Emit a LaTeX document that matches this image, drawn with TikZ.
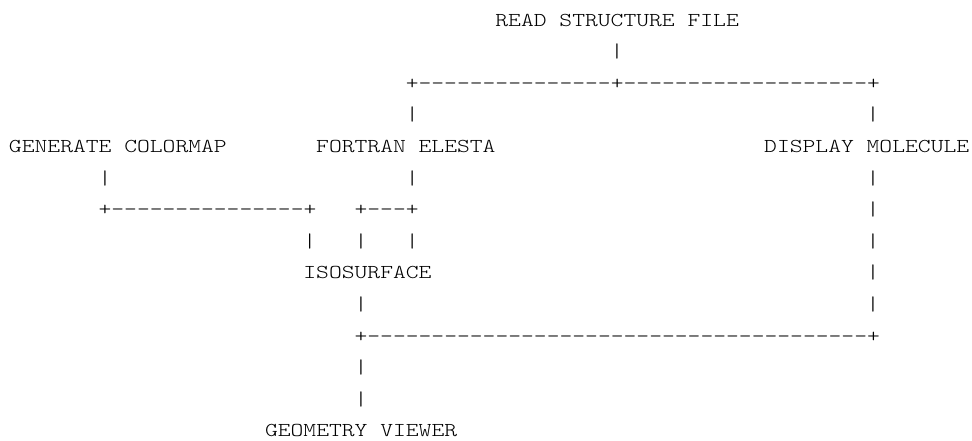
\documentclass[tikz,border=0pt]{standalone}
\usepackage{fontspec}
\newfontfamily\asciifont[FakeStretch=1.24]{lmmonolt10-regular.otf}

\tikzset{
  ascii/.style={font=\asciifont\fontsize{11.2pt}{11.2pt}\selectfont,
    anchor=base west, inner sep=0pt, outer sep=0pt},
}

\begin{document}
\begin{tikzpicture}[x=0.256cm, y=-0.632cm]
  \useasboundingbox (-0.18cm,0.52cm) rectangle (19.26cm,-8.28cm);

  % Modules (column, row on the character grid)
  \node[ascii] (read)     at (38, 0) {READ STRUCTURE FILE};
  \node[ascii] (colormap) at (0, 4)  {GENERATE COLORMAP};
  \node[ascii] (elesta)   at (24, 4) {FORTRAN ELESTA};
  \node[ascii] (molecule) at (59, 4) {DISPLAY MOLECULE};
  \node[ascii] (iso)      at (23, 8) {ISOSURFACE};
  \node[ascii] (viewer)   at (20, 13) {GEOMETRY VIEWER};

  % Split below the structure reader
  \node[ascii] (r1) at (47, 1) {|};
  \node[ascii] (r2) at (31, 2) {+---------------+-------------------+};
  \node[ascii] (r3a) at (31, 3) {|};
  \node[ascii] (r3b) at (67, 3) {|};

  % Colormap and elesta into the isosurface
  \node[ascii] (c5a) at (7, 5)  {|};
  \node[ascii] (c5b) at (31, 5) {|};
  \node[ascii] (c6a) at (7, 6)  {+---------------+};
  \node[ascii] (c6b) at (27, 6) {+---+};
  \node[ascii] (c7a) at (23, 7) {|};
  \node[ascii] (c7b) at (27, 7) {|};
  \node[ascii] (c7c) at (31, 7) {|};

  % Molecule down to the join
  \node[ascii] (m5) at (67, 5) {|};
  \node[ascii] (m6) at (67, 6) {|};
  \node[ascii] (m7) at (67, 7) {|};
  \node[ascii] (m8) at (67, 8) {|};
  \node[ascii] (m9) at (67, 9) {|};

  % Join into the viewer
  \node[ascii] (i9)  at (27, 9)  {|};
  \node[ascii] (j10) at (27, 10) {+---------------------------------------+};
  \node[ascii] (v11) at (27, 11) {|};
  \node[ascii] (v12) at (27, 12) {|};
\end{tikzpicture}
\end{document}
